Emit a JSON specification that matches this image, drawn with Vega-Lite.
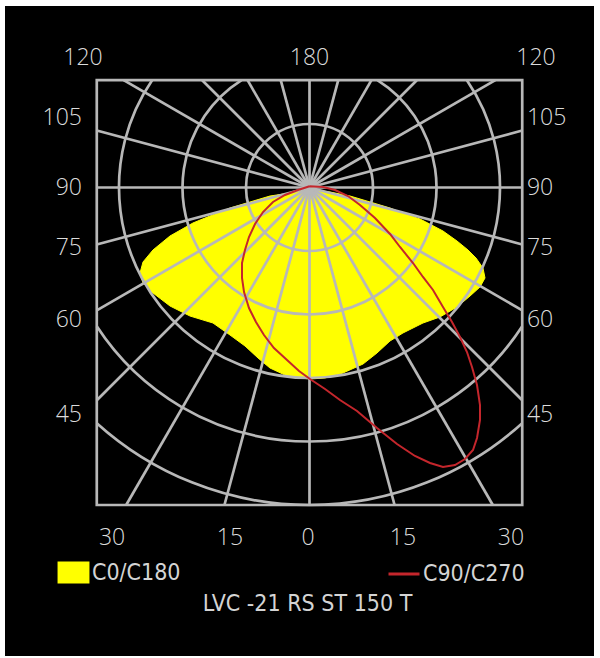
{
  "$schema": "https://vega.github.io/schema/vega-lite/v6.json",
  "width": 600,
  "height": 658,
  "autosize": {"type": "fit", "contains": "padding"},
  "padding": {"left": 5, "top": 6, "right": 6, "bottom": 2},
  "background": "#ffffff",
  "view": {"fill": "#000000", "stroke": null},
  "title": {"text": "LVC -21  RS ST 150 T", "orient": "bottom", "frame": "group", "offset": -63, "anchor": "middle", "dx": 8, "font": "DejaVu Sans Condensed, DejaVu Sans, sans-serif", "fontSize": 23, "fontWeight": "normal", "color": "#d4d4d4"},
  "datasets": {
    "c0": [
      {"s": "C0/C180", "i": 0, "x": 0, "y": -3},
      {"s": "C0/C180", "i": 1, "x": -30.7, "y": -8.7},
      {"s": "C0/C180", "i": 2, "x": -62.2, "y": -13.4},
      {"s": "C0/C180", "i": 3, "x": -93.7, "y": -22.8},
      {"s": "C0/C180", "i": 4, "x": -125.2, "y": -32.3},
      {"s": "C0/C180", "i": 5, "x": -156.7, "y": -44.9},
      {"s": "C0/C180", "i": 6, "x": -183.5, "y": -55.9},
      {"s": "C0/C180", "i": 7, "x": -219.7, "y": -76.4},
      {"s": "C0/C180", "i": 8, "x": -246.5, "y": -98.4},
      {"s": "C0/C180", "i": 9, "x": -262.2, "y": -117.3},
      {"s": "C0/C180", "i": 10, "x": -266.9, "y": -134.6},
      {"s": "C0/C180", "i": 11, "x": -262.2, "y": -150.4},
      {"s": "C0/C180", "i": 12, "x": -246.5, "y": -166.1},
      {"s": "C0/C180", "i": 13, "x": -219.7, "y": -186.6},
      {"s": "C0/C180", "i": 14, "x": -188.2, "y": -202.4},
      {"s": "C0/C180", "i": 15, "x": -152.0, "y": -213.4},
      {"s": "C0/C180", "i": 16, "x": -125.2, "y": -232.3},
      {"s": "C0/C180", "i": 17, "x": -101.6, "y": -249.6},
      {"s": "C0/C180", "i": 18, "x": -81.1, "y": -268.5},
      {"s": "C0/C180", "i": 19, "x": -62.2, "y": -284.3},
      {"s": "C0/C180", "i": 20, "x": -38.6, "y": -295.3},
      {"s": "C0/C180", "i": 21, "x": -15.0, "y": -300.0},
      {"s": "C0/C180", "i": 22, "x": 0.8, "y": -301.6},
      {"s": "C0/C180", "i": 23, "x": 24.4, "y": -300.0},
      {"s": "C0/C180", "i": 24, "x": 52.8, "y": -292.1},
      {"s": "C0/C180", "i": 25, "x": 84.3, "y": -278.0},
      {"s": "C0/C180", "i": 26, "x": 106.3, "y": -260.6},
      {"s": "C0/C180", "i": 27, "x": 126.8, "y": -241.7},
      {"s": "C0/C180", "i": 28, "x": 147.2, "y": -229.1},
      {"s": "C0/C180", "i": 29, "x": 178.7, "y": -213.4},
      {"s": "C0/C180", "i": 30, "x": 205.5, "y": -203.9},
      {"s": "C0/C180", "i": 31, "x": 232.3, "y": -188.2},
      {"s": "C0/C180", "i": 32, "x": 252.8, "y": -170.9},
      {"s": "C0/C180", "i": 33, "x": 268.5, "y": -156.7},
      {"s": "C0/C180", "i": 34, "x": 276.4, "y": -142.5},
      {"s": "C0/C180", "i": 35, "x": 273.2, "y": -126.8},
      {"s": "C0/C180", "i": 36, "x": 262.2, "y": -111.0},
      {"s": "C0/C180", "i": 37, "x": 249.6, "y": -98.4},
      {"s": "C0/C180", "i": 38, "x": 232.3, "y": -84.3},
      {"s": "C0/C180", "i": 39, "x": 210.2, "y": -68.5},
      {"s": "C0/C180", "i": 40, "x": 174.0, "y": -49.6},
      {"s": "C0/C180", "i": 41, "x": 142.5, "y": -38.6},
      {"s": "C0/C180", "i": 42, "x": 126.8, "y": -32.3},
      {"s": "C0/C180", "i": 43, "x": 95.3, "y": -22.8},
      {"s": "C0/C180", "i": 44, "x": 63.8, "y": -13.4},
      {"s": "C0/C180", "i": 45, "x": 32.3, "y": -7.1}
    ],
    "c90": [
      {"s": "C90/C270", "i": 0, "x": 0, "y": 2},
      {"s": "C90/C270", "i": 1, "x": -18.1, "y": -3.9},
      {"s": "C90/C270", "i": 2, "x": -38.6, "y": -11.8},
      {"s": "C90/C270", "i": 3, "x": -57.5, "y": -22.8},
      {"s": "C90/C270", "i": 4, "x": -73.2, "y": -38.6},
      {"s": "C90/C270", "i": 5, "x": -85.8, "y": -57.5},
      {"s": "C90/C270", "i": 6, "x": -95.3, "y": -78.0},
      {"s": "C90/C270", "i": 7, "x": -101.6, "y": -98.4},
      {"s": "C90/C270", "i": 8, "x": -106.3, "y": -118.9},
      {"s": "C90/C270", "i": 9, "x": -106.3, "y": -142.5},
      {"s": "C90/C270", "i": 10, "x": -103.1, "y": -164.6},
      {"s": "C90/C270", "i": 11, "x": -95.3, "y": -189.8},
      {"s": "C90/C270", "i": 12, "x": -84.3, "y": -211.9},
      {"s": "C90/C270", "i": 13, "x": -71.7, "y": -232.3},
      {"s": "C90/C270", "i": 14, "x": -56.0, "y": -252.8},
      {"s": "C90/C270", "i": 15, "x": -35.4, "y": -271.7},
      {"s": "C90/C270", "i": 16, "x": -16.5, "y": -289.1},
      {"s": "C90/C270", "i": 17, "x": 0.8, "y": -301.6},
      {"s": "C90/C270", "i": 18, "x": 24.4, "y": -317.3},
      {"s": "C90/C270", "i": 19, "x": 48.0, "y": -334.6},
      {"s": "C90/C270", "i": 20, "x": 74.8, "y": -351.9},
      {"s": "C90/C270", "i": 21, "x": 106.3, "y": -378.7},
      {"s": "C90/C270", "i": 22, "x": 137.8, "y": -403.9},
      {"s": "C90/C270", "i": 23, "x": 166.1, "y": -422.8},
      {"s": "C90/C270", "i": 24, "x": 189.8, "y": -433.8},
      {"s": "C90/C270", "i": 25, "x": 210.2, "y": -440.1},
      {"s": "C90/C270", "i": 26, "x": 229.1, "y": -437.0},
      {"s": "C90/C270", "i": 27, "x": 244.9, "y": -427.6},
      {"s": "C90/C270", "i": 28, "x": 257.5, "y": -413.4},
      {"s": "C90/C270", "i": 29, "x": 263.8, "y": -394.5},
      {"s": "C90/C270", "i": 30, "x": 268.5, "y": -366.1},
      {"s": "C90/C270", "i": 31, "x": 268.5, "y": -342.5},
      {"s": "C90/C270", "i": 32, "x": 263.8, "y": -311.0},
      {"s": "C90/C270", "i": 33, "x": 255.9, "y": -282.7},
      {"s": "C90/C270", "i": 34, "x": 248.0, "y": -259.1},
      {"s": "C90/C270", "i": 35, "x": 237.0, "y": -235.4},
      {"s": "C90/C270", "i": 36, "x": 224.4, "y": -211.9},
      {"s": "C90/C270", "i": 37, "x": 210.2, "y": -188.2},
      {"s": "C90/C270", "i": 38, "x": 194.5, "y": -161.4},
      {"s": "C90/C270", "i": 39, "x": 178.7, "y": -140.9},
      {"s": "C90/C270", "i": 40, "x": 163.0, "y": -118.9},
      {"s": "C90/C270", "i": 41, "x": 142.5, "y": -93.7},
      {"s": "C90/C270", "i": 42, "x": 126.8, "y": -73.2},
      {"s": "C90/C270", "i": 43, "x": 103.1, "y": -48.0},
      {"s": "C90/C270", "i": 44, "x": 79.5, "y": -27.6},
      {"s": "C90/C270", "i": 45, "x": 60.6, "y": -13.4},
      {"s": "C90/C270", "i": 46, "x": 40.2, "y": -3.9},
      {"s": "C90/C270", "i": 47, "x": 21.3, "y": 0.8},
      {"s": "C90/C270", "i": 48, "x": 0, "y": 2}
    ],
    "rays": [
      {"g": 0, "x": 0, "y": 0, "x2": 0, "y2": -500},
      {"g": 15, "x": 0, "y": 0, "x2": 133.97, "y2": -500},
      {"g": 30, "x": 0, "y": 0, "x2": 288.68, "y2": -500},
      {"g": 45, "x": 0, "y": 0, "x2": 335, "y2": -335},
      {"g": 60, "x": 0, "y": 0, "x2": 335, "y2": -193.41},
      {"g": 75, "x": 0, "y": 0, "x2": 335, "y2": -89.76},
      {"g": 90, "x": 0, "y": 0, "x2": 335, "y2": 0},
      {"g": 105, "x": 0, "y": 0, "x2": 335, "y2": 89.76},
      {"g": 120, "x": 0, "y": 0, "x2": 292.72, "y2": 169},
      {"g": 135, "x": 0, "y": 0, "x2": 169, "y2": 169},
      {"g": 150, "x": 0, "y": 0, "x2": 97.57, "y2": 169},
      {"g": 165, "x": 0, "y": 0, "x2": 45.28, "y2": 169},
      {"g": 180, "x": 0, "y": 0, "x2": 0, "y2": 169},
      {"g": -15, "x": 0, "y": 0, "x2": -133.97, "y2": -500},
      {"g": -30, "x": 0, "y": 0, "x2": -288.68, "y2": -500},
      {"g": -45, "x": 0, "y": 0, "x2": -335, "y2": -335},
      {"g": -60, "x": 0, "y": 0, "x2": -335, "y2": -193.41},
      {"g": -75, "x": 0, "y": 0, "x2": -335, "y2": -89.76},
      {"g": -90, "x": 0, "y": 0, "x2": -335, "y2": 0},
      {"g": -105, "x": 0, "y": 0, "x2": -335, "y2": 89.76},
      {"g": -120, "x": 0, "y": 0, "x2": -292.72, "y2": 169},
      {"g": -135, "x": 0, "y": 0, "x2": -169, "y2": 169},
      {"g": -150, "x": 0, "y": 0, "x2": -97.57, "y2": 169},
      {"g": -165, "x": 0, "y": 0, "x2": -45.28, "y2": 169}
    ],
    "circles": [
      {"r": 100, "a0": 0, "a1": 360},
      {"r": 200, "a0": 32.33, "a1": 327.67},
      {"r": 300, "a0": 55.71, "a1": 304.29},
      {"r": 400, "a0": 123.12, "a1": 236.88},
      {"r": 500, "a0": 137.93, "a1": 222.07}
    ],
    "frame": [{"x": -335, "x2": 335, "y": -500, "y2": 169}],
    "topLabels": [
      {"t": "120", "x": -356.7, "y": 203.9},
      {"t": "180", "x": 0, "y": 203.9},
      {"t": "120", "x": 356.7, "y": 203.9}
    ],
    "leftLabels": [
      {"t": "105", "x": -358.3, "y": 109.4},
      {"t": "90", "x": -358.3, "y": 0},
      {"t": "75", "x": -358.3, "y": -95.3},
      {"t": "60", "x": -358.3, "y": -208.7},
      {"t": "45", "x": -358.3, "y": -358.3}
    ],
    "rightLabels": [
      {"t": "105", "x": 342.5, "y": 109.4},
      {"t": "90", "x": 342.5, "y": 0},
      {"t": "75", "x": 342.5, "y": -95.3},
      {"t": "60", "x": 342.5, "y": -208.7},
      {"t": "45", "x": 342.5, "y": -358.3}
    ],
    "bottomLabels": [
      {"t": "30", "x": -311.0, "y": -552},
      {"t": "15", "x": -125.2, "y": -552},
      {"t": "0", "x": -2.4, "y": -552},
      {"t": "15", "x": 147.2, "y": -552},
      {"t": "30", "x": 317.3, "y": -552}
    ]
  },
  "layer": [
    {
      "data": {"name": "c0"},
      "mark": {"type": "line", "interpolate": "linear-closed", "stroke": "#ffff00", "strokeWidth": 1},
      "encoding": {
        "x": {"field": "x", "type": "quantitative", "axis": null, "scale": {"domain": [-479.53, 448.03], "nice": false, "zero": false}},
        "y": {"field": "y", "type": "quantitative", "axis": null, "scale": {"domain": [-737.8, 285.83], "nice": false, "zero": false}},
        "order": {"field": "i", "type": "quantitative"},
        "fill": {"field": "s", "type": "nominal", "scale": {"domain": ["C0/C180"], "range": ["#ffff00"]},
          "legend": {"orient": "none", "legendX": 57, "legendY": 555, "title": null, "padding": 0, "symbolType": "M-1.45,-1L1.45,-1L1.45,1L-1.45,1Z", "symbolSize": 484, "symbolStrokeWidth": 0, "labelOffset": 7, "labelFont": "DejaVu Sans Condensed, DejaVu Sans, sans-serif", "labelFontSize": 23, "labelColor": "#d4d4d4", "labelLimit": 300}}
      }
    },
    {
      "data": {"name": "rays"},
      "mark": {"type": "rule", "stroke": "#b8b8b8", "strokeWidth": 2.7},
      "encoding": {
        "x": {"field": "x", "type": "quantitative"},
        "y": {"field": "y", "type": "quantitative"},
        "x2": {"field": "x2"},
        "y2": {"field": "y2"}
      }
    },
    {
      "data": {"name": "circles"},
      "mark": {"type": "arc", "filled": false, "fill": "transparent", "stroke": "#b8b8b8", "strokeWidth": 2.7},
      "encoding": {
        "x": {"datum": 0, "type": "quantitative"},
        "y": {"datum": 0, "type": "quantitative"},
        "theta": {"field": "a0", "type": "quantitative", "stack": null, "scale": {"domain": [0, 360], "range": [0, 6.283185307179586]}},
        "theta2": {"field": "a1"},
        "radius": {"field": "r", "type": "quantitative", "scale": {"type": "linear", "domain": [0, 500], "range": [0, 317.5], "zero": true}},
        "radius2": {"field": "r"}
      }
    },
    {
      "data": {"name": "frame"},
      "mark": {"type": "rect", "filled": false, "fill": "transparent", "stroke": "#b8b8b8", "strokeWidth": 2.7},
      "encoding": {
        "x": {"field": "x", "type": "quantitative"},
        "x2": {"field": "x2"},
        "y": {"field": "y", "type": "quantitative"},
        "y2": {"field": "y2"}
      }
    },
    {
      "data": {"name": "c90"},
      "mark": {"type": "line", "strokeWidth": 2},
      "encoding": {
        "x": {"field": "x", "type": "quantitative"},
        "y": {"field": "y", "type": "quantitative"},
        "order": {"field": "i", "type": "quantitative"},
        "stroke": {"field": "s", "type": "nominal", "scale": {"domain": ["C90/C270"], "range": ["#c4262c"]},
          "legend": {"orient": "none", "legendX": 382, "legendY": 551, "title": null, "padding": 0, "symbolType": "stroke", "symbolSize": 961, "symbolStrokeWidth": 3, "labelOffset": 2, "labelFont": "DejaVu Sans Condensed, DejaVu Sans, sans-serif", "labelFontSize": 23, "labelColor": "#d4d4d4", "labelLimit": 300}}
      }
    },
    {
      "data": {"name": "topLabels"},
      "mark": {"type": "text", "align": "center", "baseline": "middle", "font": "Open Sans", "fontSize": 23, "fontWeight": 300, "fill": "#dcdcdc"},
      "encoding": {
        "x": {"field": "x", "type": "quantitative"},
        "y": {"field": "y", "type": "quantitative"},
        "text": {"field": "t"}
      }
    },
    {
      "data": {"name": "leftLabels"},
      "mark": {"type": "text", "align": "right", "baseline": "middle", "font": "Open Sans", "fontSize": 23, "fontWeight": 300, "fill": "#dcdcdc"},
      "encoding": {
        "x": {"field": "x", "type": "quantitative"},
        "y": {"field": "y", "type": "quantitative"},
        "text": {"field": "t"}
      }
    },
    {
      "data": {"name": "rightLabels"},
      "mark": {"type": "text", "align": "left", "baseline": "middle", "font": "Open Sans", "fontSize": 23, "fontWeight": 300, "fill": "#dcdcdc"},
      "encoding": {
        "x": {"field": "x", "type": "quantitative"},
        "y": {"field": "y", "type": "quantitative"},
        "text": {"field": "t"}
      }
    },
    {
      "data": {"name": "bottomLabels"},
      "mark": {"type": "text", "align": "center", "baseline": "middle", "font": "Open Sans", "fontSize": 23, "fontWeight": 300, "fill": "#dcdcdc"},
      "encoding": {
        "x": {"field": "x", "type": "quantitative"},
        "y": {"field": "y", "type": "quantitative"},
        "text": {"field": "t"}
      }
    }
  ]
}
